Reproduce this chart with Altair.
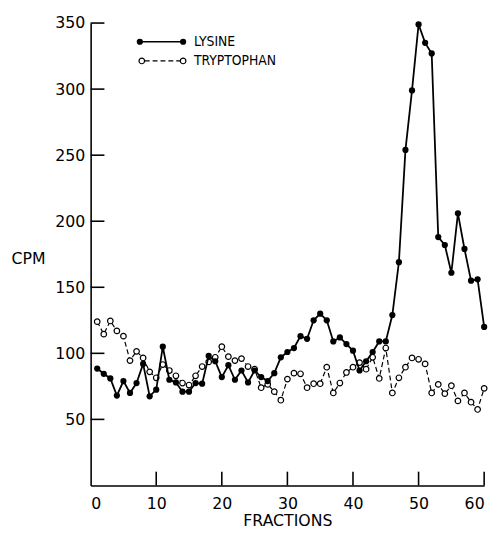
import altair as alt
import pandas as pd

# ---- data ----
fractions = list(range(1, 61))
lysine = [88.5, 84.5, 81, 68, 79, 70, 77.5, 92, 67.5, 72.5,
          105, 80, 78, 71, 71, 77.5, 77, 98, 94, 82,
          91, 80, 87, 78, 87, 82, 79, 85, 97, 101,
          104, 113, 111, 125, 130, 125, 109, 112, 107, 102,
          87, 94, 101, 109, 109, 129, 169, 254, 299, 349,
          335, 327, 188, 182, 161, 206, 179, 155, 156, 120]
tryptophan = [124, 114.5, 124.5, 117, 113, 94.5, 101.5, 96.5, 86, 81.5,
              91.5, 87, 83, 77.5, 76, 83, 90, 93.5, 97, 105,
              97.5, 94.5, 96, 90, 88, 74, 76.5, 71, 64.5, 80.5,
              85, 84.5, 74, 77, 77, 89.5, 70, 77.5, 85.5, 89.5,
              93, 88, 97, 81, 104, 70, 81.5, 89.5, 96.5, 95.5,
              92, 70, 76.5, 69.5, 75.5, 64, 70, 63, 57.5, 73.5]
x_ticks = [0, 10, 20, 30, 40, 50, 60]
y_ticks = [50, 100, 150, 200, 250, 300, 350]
series_names = ["LYSINE", "TRYPTOPHAN"]

W, H = 400, 470
X_MAX, Y_MAX = 60, 350
TICK_PX = 14
TICK_W_PX = 1.6
FONT = "DejaVu Sans"
NARROW = "DejaVu Sans Condensed, Liberation Sans Narrow, DejaVu Sans"

rows = []
for f, v in zip(fractions, lysine):
    rows.append({"f": f, "v": v, "s": series_names[0]})
for f, v in zip(fractions, tryptophan):
    rows.append({"f": f, "v": v, "s": series_names[1]})
df = pd.DataFrame(rows)

xscale = alt.Scale(domain=[0, X_MAX], nice=False, zero=False)
yscale = alt.Scale(domain=[0, Y_MAX], nice=False)

xaxis = alt.Axis(values=x_ticks, tickSize=0, grid=False, domainColor="black",
                 domainWidth=1.6, labelFont=FONT, labelFontSize=16,
                 labelColor="black", labelPadding=10, title="FRACTIONS",
                 titleFont=FONT, titleFontSize=16, titleFontWeight="normal",
                 titleColor="black", titleBaseline="top", titleY=28)
yaxis = alt.Axis(values=y_ticks, tickSize=0, grid=False, domainColor="black",
                 domainWidth=1.6, labelFont=FONT, labelFontSize=16,
                 labelColor="black", labelPadding=6, title="CPM",
                 titleFont=FONT, titleFontSize=16, titleFontWeight="normal",
                 titleColor="black", titleAngle=0, titleAlign="left",
                 titleBaseline="middle", titleX=-81, titleY=239)

X = alt.X("f:Q", scale=xscale, axis=xaxis)
Y = alt.Y("v:Q", scale=yscale, axis=yaxis)

base = alt.Chart(df)
trp = base.transform_filter(alt.datum.s == series_names[1])
lys = base.transform_filter(alt.datum.s == series_names[0])

trp_line = trp.mark_line(color="black", strokeWidth=1.2,
                         strokeDash=[5, 3]).encode(x=X, y=Y)
trp_pts = trp.mark_point(shape="circle", filled=True, fill="white",
                         stroke="black", strokeWidth=1.2, size=32,
                         opacity=1).encode(x=X, y=Y)
lys_line = lys.mark_line(color="black", strokeWidth=1.8).encode(x=X, y=Y)
lys_pts = lys.mark_circle(color="black", size=40, opacity=1).encode(x=X, y=Y)

# inward ticks as thin rectangles drawn through the scales
ylen = TICK_PX * Y_MAX / H
xlen = TICK_PX * X_MAX / W
xhw = TICK_W_PX / 2 * X_MAX / W
yhw = TICK_W_PX / 2 * Y_MAX / H
df_xt = pd.DataFrame({"t": x_ticks[1:]})
df_yt = pd.DataFrame({"t": y_ticks})
xt = alt.Chart(df_xt).transform_calculate(
    a=f"datum.t - {xhw}", b=f"datum.t + {xhw}", c="0", d=str(ylen)
).mark_rect(color="black", opacity=1).encode(
    x=alt.X("a:Q", scale=xscale, axis=xaxis), x2="b:Q",
    y=alt.Y("c:Q", scale=yscale, axis=yaxis), y2="d:Q")
yt = alt.Chart(df_yt).transform_calculate(
    a=f"datum.t - {yhw}", b=f"datum.t + {yhw}", c="0", d=str(xlen)
).mark_rect(color="black", opacity=1).encode(
    y=alt.Y("a:Q", scale=yscale, axis=yaxis), y2="b:Q",
    x=alt.X("c:Q", scale=xscale, axis=xaxis), x2="d:Q")

# legend
one = pd.DataFrame({"a": [0]})
leg = [
    alt.Chart(one).mark_rule(color="black", strokeWidth=1.6).encode(
        x=alt.value(50), x2=alt.value(94), y=alt.value(19)),
    alt.Chart(one).mark_circle(color="black", size=40, opacity=1).encode(
        x=alt.value(50), y=alt.value(19)),
    alt.Chart(one).mark_circle(color="black", size=40, opacity=1).encode(
        x=alt.value(94), y=alt.value(19)),
    alt.Chart(one).mark_rule(color="black", strokeWidth=1.2, strokeDash=[5, 3]).encode(
        x=alt.value(55), x2=alt.value(91), y=alt.value(38.5)),
    alt.Chart(one).mark_point(shape="circle", filled=True, fill="white", stroke="black",
                              strokeWidth=1.2, size=32, opacity=1).encode(
        x=alt.value(52), y=alt.value(38.5)),
    alt.Chart(one).mark_point(shape="circle", filled=True, fill="white", stroke="black",
                              strokeWidth=1.2, size=32, opacity=1).encode(
        x=alt.value(94), y=alt.value(38.5)),
    alt.Chart(one).mark_text(text=series_names[0], align="left", baseline="middle",
                             font=NARROW, fontSize=14, color="black").encode(
        x=alt.value(105), y=alt.value(19)),
    alt.Chart(one).mark_text(text=series_names[1], align="left", baseline="middle",
                             font=NARROW, fontSize=14, color="black").encode(
        x=alt.value(105), y=alt.value(38.5)),
]

chart = alt.layer(trp_line, trp_pts, lys_line, lys_pts, xt, yt, *leg).properties(
    width=W, height=H,
    autosize=alt.AutoSizeParams(type="none"),
    padding={"left": 84, "top": 11, "right": 10, "bottom": 42},
    background="white",
).configure_view(stroke=None)

chart.save("out.html", embed_options={"renderer": "svg", "actions": False})
